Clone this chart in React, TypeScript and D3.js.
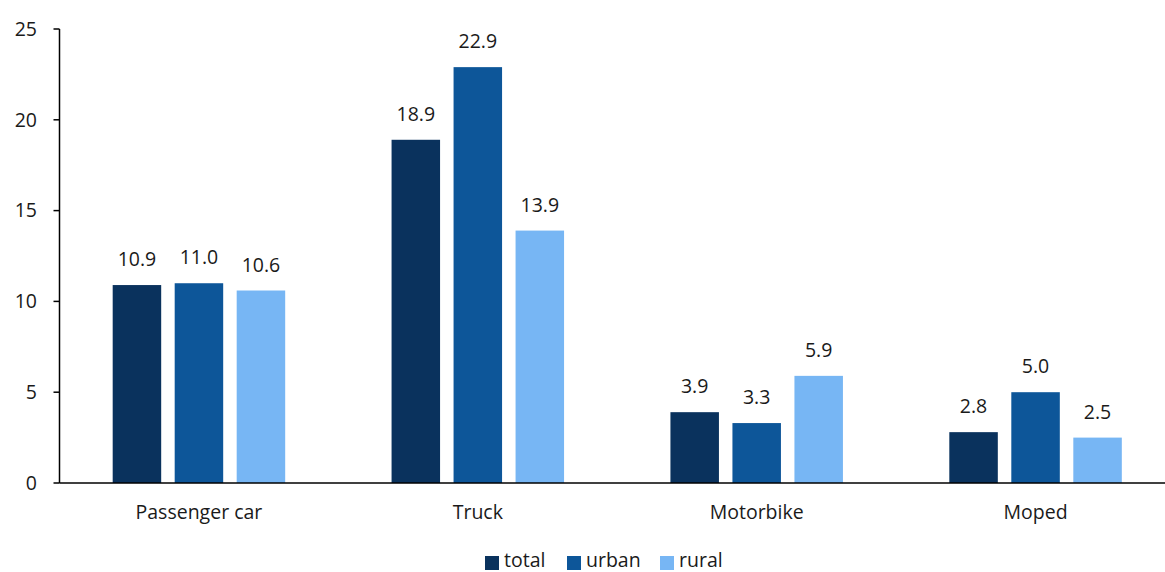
import React, { useEffect, useRef } from "react";
import * as d3 from "d3";

const categories = ["Passenger car", "Truck", "Motorbike", "Moped"];
const seriesNames = ["total", "urban", "rural"];
const totalValues = [10.9, 18.9, 3.9, 2.8];
const urbanValues = [11.0, 22.9, 3.3, 5.0];
const ruralValues = [10.6, 13.9, 5.9, 2.5];
const yTicks = [0, 5, 10, 15, 20, 25];

const colors = ["#0a325d", "#0d5699", "#77b6f4"];
const FONT = "'Open Sans', Lato, sans-serif";
const FS = 19.5;

const App: React.FC = () => {
    const svgRef = useRef<SVGSVGElement | null>(null);

    useEffect(() => {
        if (!svgRef.current) return;
        const svg = d3.select(svgRef.current);
        svg.selectAll("*").remove();

        const width = 1165;
        const left = 59.5;
        const right = 1175;
        const top = 29;
        const bottom = 483;

        const x = d3.scaleBand<string>().domain(categories).range([left, right]).padding(0);
        const y = d3.scaleLinear().domain([0, 25]).range([bottom, top]);

        const barW = 48.5;
        const gap = 13.5;
        const groupW = barW * 3 + gap * 2;

        const allSeries = [totalValues, urbanValues, ruralValues];

        // bars + value labels
        categories.forEach((cat, ci) => {
            const gx = (x(cat) ?? 0) + x.bandwidth() / 2 - groupW / 2;
            allSeries.forEach((vals, si) => {
                const bx = gx + si * (barW + gap);
                const v = vals[ci];
                svg.append("rect")
                    .attr("x", bx)
                    .attr("y", y(v))
                    .attr("width", barW)
                    .attr("height", y(0) - y(v))
                    .attr("fill", colors[si]);
                svg.append("text")
                    .attr("x", bx + barW / 2)
                    .attr("y", y(v) - 19)
                    .attr("text-anchor", "middle")
                    .attr("font-family", FONT)
                    .attr("font-size", FS)
                    .attr("fill", "#1a1a1a")
                    .text(v.toFixed(1));
            });
        });

        // y axis
        svg.append("line")
            .attr("x1", left).attr("x2", left)
            .attr("y1", top).attr("y2", bottom)
            .attr("stroke", "#000").attr("stroke-width", 1.5);
        yTicks.forEach((t) => {
            svg.append("line")
                .attr("x1", left - 6).attr("x2", left)
                .attr("y1", y(t)).attr("y2", y(t))
                .attr("stroke", "#000").attr("stroke-width", 1.5);
            svg.append("text")
                .attr("x", 37)
                .attr("y", y(t))
                .attr("dy", "0.35em")
                .attr("text-anchor", "end")
                .attr("font-family", FONT)
                .attr("font-size", FS)
                .attr("fill", "#1a1a1a")
                .text(t);
        });

        // x axis
        svg.append("line")
            .attr("x1", left).attr("x2", width)
            .attr("y1", bottom).attr("y2", bottom)
            .attr("stroke", "#000").attr("stroke-width", 1.5);
        categories.forEach((cat) => {
            svg.append("text")
                .attr("x", (x(cat) ?? 0) + x.bandwidth() / 2)
                .attr("y", 519)
                .attr("text-anchor", "middle")
                .attr("font-family", FONT)
                .attr("font-size", FS)
                .attr("fill", "#1a1a1a")
                .text(cat);
        });

        // legend
        const legendX = [485, 567, 660];
        seriesNames.forEach((name, i) => {
            svg.append("rect")
                .attr("x", legendX[i])
                .attr("y", 556)
                .attr("width", 14)
                .attr("height", 14)
                .attr("fill", colors[i]);
            svg.append("text")
                .attr("x", legendX[i] + 19)
                .attr("y", 567)
                .attr("font-family", FONT)
                .attr("font-size", FS)
                .attr("fill", "#1a1a1a")
                .text(name);
        });
    }, []);

    return (
        <svg
            ref={svgRef}
            width={1165}
            height={572}
            style={{ position: "absolute", left: 0, top: 0, background: "#fff" }}
        />
    );
};

export default App;
